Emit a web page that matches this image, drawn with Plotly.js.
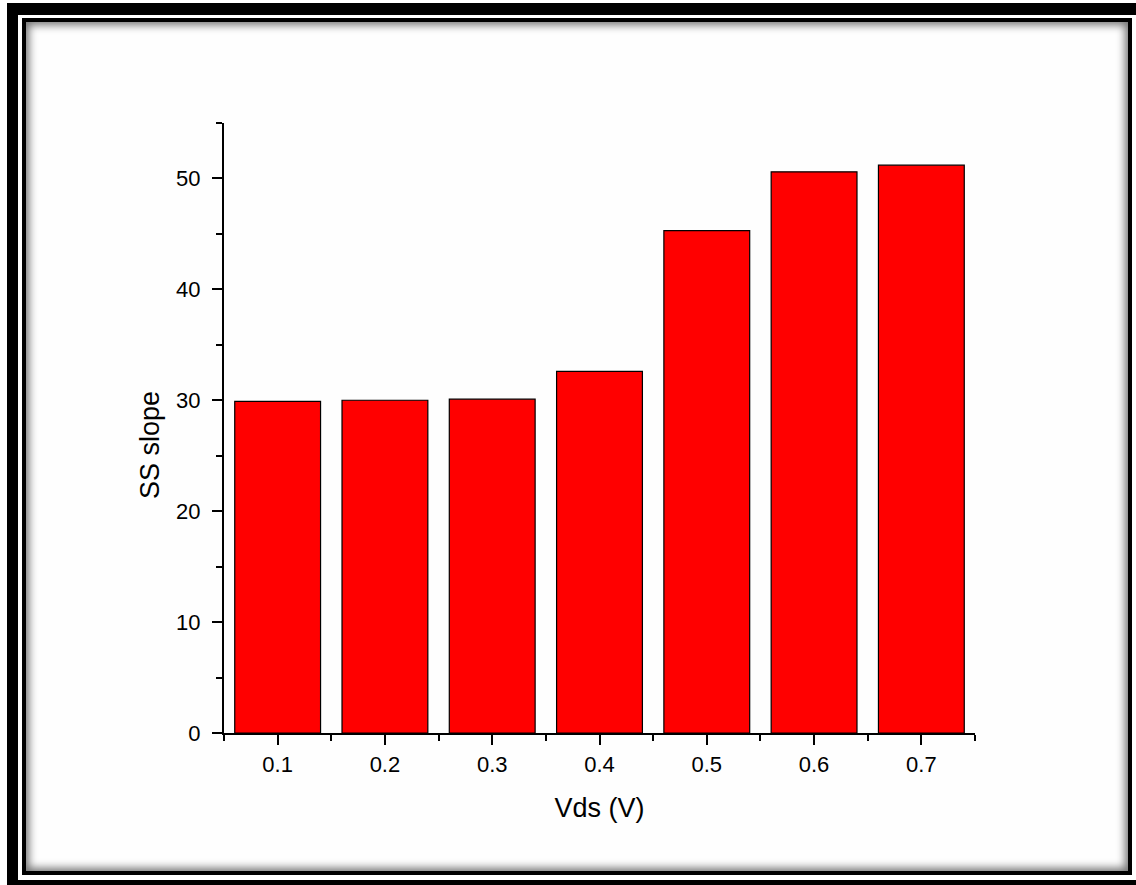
<!DOCTYPE html>
<html>
<head>
<meta charset="utf-8">
<script src="https://cdn.plot.ly/plotly-3.0.1.min.js"></script>
<style>
  html, body { margin: 0; padding: 0; background: #ffffff; overflow: hidden; }
  #outer { position: absolute; left: 7px; top: 3px; width: 1160px; height: 887px; box-sizing: border-box;
           border-left: 11px solid #000; border-top: 12px solid #000; border-bottom: 10px solid #000; }
  #inner { position: absolute; left: 22px; top: 18px; width: 1110px; height: 857px; box-sizing: border-box;
           border: 4px solid #000; background: #fefefe;
           box-shadow: inset 0 0 9px 3px rgba(0,0,0,0.55); }
  #chart { position: absolute; left: 0; top: 0; width: 1136px; height: 885px; }
</style>
</head>
<body>
<div id="outer"></div>
<div id="inner"></div>
<div id="chart"></div>
<script>
// Data
const vds = [0.1, 0.2, 0.3, 0.4, 0.5, 0.6, 0.7];
const ssSlope = [29.9, 30.0, 30.1, 32.6, 45.3, 50.6, 51.2];
const xTitle = 'Vds (V)';
const yTitle = 'SS slope';

const trace = {
  type: 'bar',
  x: vds,
  y: ssSlope,
  width: 0.08,
  marker: { color: '#ff0000', line: { color: '#000000', width: 1.2 } },
  hoverinfo: 'x+y'
};

const tickFont = { family: 'Liberation Sans, Arial, sans-serif', size: 22, color: '#000' };
const titleFont = { family: 'Liberation Sans, Arial, sans-serif', size: 27, color: '#000' };

const layout = {
  width: 1136,
  height: 885,
  margin: { l: 224, r: 161, t: 123, b: 152, pad: 0 },
  paper_bgcolor: 'rgba(0,0,0,0)',
  plot_bgcolor: 'rgba(0,0,0,0)',
  showlegend: false,
  xaxis: {
    range: [0.05, 0.75],
    tickmode: 'linear', tick0: 0, dtick: 0.1,
    tickformat: '.1f',
    ticks: 'outside', ticklen: 10, tickwidth: 2, tickcolor: '#000',
    minor: { ticks: 'outside', dtick: 0.05, tick0: 0, ticklen: 6, tickwidth: 2, tickcolor: '#000' },
    showline: true, linecolor: '#000', linewidth: 2, mirror: false,
    showgrid: false, zeroline: false,
    tickfont: tickFont,
    ticklabelstandoff: 1,
    title: { text: xTitle, font: titleFont, standoff: 22 }
  },
  yaxis: {
    range: [0, 55],
    tickmode: 'linear', tick0: 0, dtick: 10,
    ticks: 'outside', ticklen: 10, tickwidth: 2, tickcolor: '#000',
    minor: { ticks: 'outside', dtick: 5, tick0: 0, ticklen: 6, tickwidth: 2, tickcolor: '#000' },
    showline: true, linecolor: '#000', linewidth: 2, mirror: false,
    showgrid: false, zeroline: false,
    tickfont: tickFont,
    ticklabelstandoff: 7
  },
  annotations: [{
    text: yTitle,
    xref: 'paper', yref: 'paper',
    x: (150 - 224) / 751, y: (885 - 152 - 445) / 610,
    xanchor: 'center', yanchor: 'middle',
    textangle: -90,
    showarrow: false,
    font: titleFont
  }]
};

Plotly.newPlot('chart', [trace], layout, { displayModeBar: false, staticPlot: true });
</script>
</body>
</html>
